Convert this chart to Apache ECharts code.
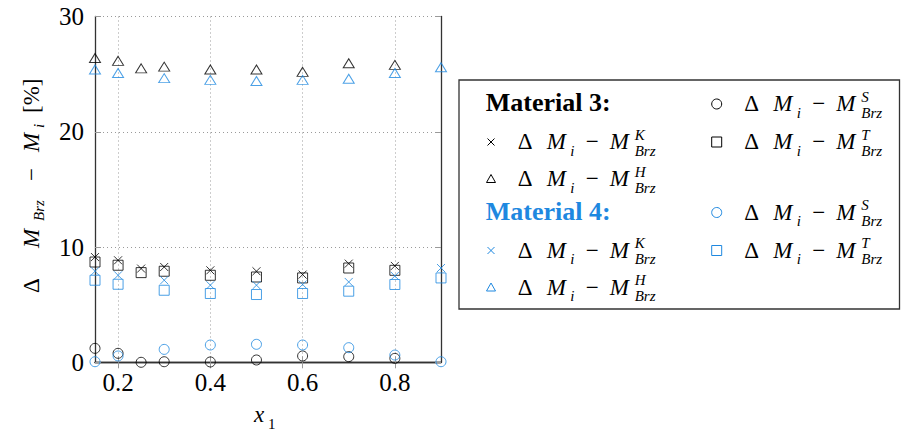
<!DOCTYPE html>
<html>
<head>
<meta charset="utf-8">
<script src="https://cdn.jsdelivr.net/npm/echarts@6/dist/echarts.min.js"></script>
<style>html,body{margin:0;padding:0;background:#fff}#c{width:902px;height:433px}</style>
</head>
<body>
<div id="c"></div>
<script>
// ---- data ----
const x3 = [0.15, 0.2, 0.25, 0.3, 0.4, 0.5, 0.6, 0.7, 0.8];
const m3K = [9.13, 8.85, 8.13, 8.27, 7.98, 7.9, 7.61, 8.56, 8.36];
const m3H = [26.4, 26.15, 25.5, 25.65, 25.4, 25.4, 25.2, 25.95, 25.8];
const m3S = [1.21, 0.78, 0.0, 0.05, 0.03, 0.2, 0.55, 0.49, 0.34];
const m3T = [8.7, 8.42, 7.78, 7.9, 7.55, 7.4, 7.32, 8.18, 7.98];

const x4 = [0.15, 0.2, 0.3, 0.4, 0.5, 0.6, 0.7, 0.8, 0.9];
const m4K = [7.9, 7.55, 7.12, 6.69, 6.69, 6.75, 6.97, 7.49, 8.18];
const m4H = [25.4, 25.1, 24.65, 24.5, 24.4, 24.5, 24.6, 25.1, 25.6];
const m4S = [0.05, 0.55, 1.12, 1.5, 1.56, 1.5, 1.27, 0.63, 0.05];
const m4T = [7.12, 6.77, 6.25, 5.97, 5.88, 5.97, 6.17, 6.75, 7.32];

const xTicks = [0.2, 0.4, 0.6, 0.8];

// ---- styling ----
const BLACK = '#000000';
const BLUE = '#1e88e0';
const crossPath = 'path://M0,0L10,10M10,0L0,10';

function pairs(xs, ys) { return xs.map((x, i) => [x, ys[i]]); }
function sc(name, xs, ys, color, symbol, size) {
  return {
    type: 'scatter', name: name, data: pairs(xs, ys),
    symbol: symbol, symbolSize: size,
    itemStyle: { color: 'rgba(0,0,0,0)', borderColor: color, borderWidth: 1 }
  };
}

// text pieces, same form as a plain graphic text
function txt(x, y, t, size, fstyle, color) {
  return { type: 'text', x: x, y: y,
    style: { text: t, font: (fstyle ? fstyle + ' ' : '') + size + 'px Liberation Serif', fill: color || '#000' } };
}
// y here is the top of the text box (default 'top' alignment)
const MS = 23, SS = 15;
function entry(x0, yc, sup) {
  const t = yc - 12;
  return [
    txt(x0, t, '\u0394', MS),
    txt(x0 + 29, t, 'M', MS, 'italic'),
    txt(x0 + 52.5, t + 13, 'i', SS, 'italic'),
    txt(x0 + 68, t, '\u2212', MS),
    txt(x0 + 92, t, 'M', MS, 'italic'),
    txt(x0 + 117, t - 3, sup, SS, 'italic'),
    txt(x0 + 117, t + 13, 'Brz', SS, 'italic')
  ];
}
function mk(type, cx, cy, color) {
  const st = { fill: 'none', stroke: color, lineWidth: 1 };
  if (type === 'circle') return [{ type: 'circle', shape: { cx, cy, r: 5 }, style: st }];
  if (type === 'rect') return [{ type: 'rect', shape: { x: cx - 5, y: cy - 5, width: 10, height: 10 }, style: st }];
  if (type === 'tri') return [{ type: 'polygon', shape: { points: [[cx, cy - 4.5], [cx + 4.5, cy + 3.5], [cx - 4.5, cy + 3.5]] }, style: st }];
  return [
    { type: 'line', shape: { x1: cx - 3.5, y1: cy - 3.5, x2: cx + 3.5, y2: cy + 3.5 }, style: st },
    { type: 'line', shape: { x1: cx + 3.5, y1: cy - 3.5, x2: cx - 3.5, y2: cy + 3.5 }, style: st }
  ];
}

const c1m = 491, c1t = 517.7, c2m = 716.7, c2t = 744.3;
const rows = [104, 142, 179, 212.5, 250.5, 287.5];
let legend = [
  { type: 'rect', shape: { x: 459, y: 80, width: 440.5, height: 229 },
    style: { fill: '#fff', stroke: '#333', lineWidth: 1.3 } },
  txt(485.7, 89, 'Material 3:', 26, 'bold', BLACK),
  txt(485.7, 198, 'Material 4:', 26, 'bold', BLUE)
];
legend = legend
  .concat(mk('circle', c2m, rows[0], BLACK), entry(c2t, rows[0], 'S'))
  .concat(mk('cross', c1m, rows[1], BLACK), entry(c1t, rows[1], 'K'))
  .concat(mk('rect', c2m, rows[1], BLACK), entry(c2t, rows[1], 'T'))
  .concat(mk('tri', c1m, rows[2], BLACK), entry(c1t, rows[2], 'H'))
  .concat(mk('circle', c2m, rows[3], BLUE), entry(c2t, rows[3], 'S'))
  .concat(mk('cross', c1m, rows[4], BLUE), entry(c1t, rows[4], 'K'))
  .concat(mk('rect', c2m, rows[4], BLUE), entry(c2t, rows[4], 'T'))
  .concat(mk('tri', c1m, rows[5], BLUE), entry(c1t, rows[5], 'H'));

// y axis title (rotated): Δ M_Brz − M_i [%]
const yTitle = {
  type: 'group', x: 19.5, y: 293, rotation: Math.PI / 2,
  children: [
    txt(0, 0, '\u0394', MS),
    txt(45, 0, 'M', MS, 'italic'),
    txt(72, 12, 'Brz', SS, 'italic'),
    txt(112, 0, '\u2212', MS),
    txt(141, 0, 'M', MS, 'italic'),
    txt(165, 12, 'i', SS, 'italic'),
    txt(180, 0, '[%]', MS)
  ]
};
const xTitle = [txt(254, 403, 'x', MS, 'italic'), txt(268, 416, '1', SS)];

const tickStyle = { show: true, inside: true, length: 6, lineStyle: { color: '#9a9a9a', width: 1 } };
const gridLine = { show: true, lineStyle: { type: [1, 3], color: '#9a9a9a', width: 1 } };
const frame = { show: true, lineStyle: { color: '#333', width: 1.3 } };

const option = {
  animation: false,
  grid: { left: 95, top: 16.5, width: 346, height: 345.8 },
  xAxis: [
    { type: 'value', min: 0.15, max: 0.9, axisLine: frame,
      axisTick: Object.assign({ customValues: xTicks }, tickStyle),
      axisLabel: { customValues: xTicks, margin: 8, fontFamily: 'Liberation Serif', fontSize: 25, color: '#000' },
      splitLine: gridLine },
    { type: 'value', position: 'top', min: 0.15, max: 0.9, axisLine: frame,
      axisTick: Object.assign({ customValues: xTicks }, tickStyle),
      axisLabel: { show: false }, splitLine: { show: false } }
  ],
  yAxis: [
    { type: 'value', min: 0, max: 30, interval: 10, axisLine: frame,
      axisTick: tickStyle,
      axisLabel: { margin: 11, fontFamily: 'Liberation Serif', fontSize: 25, color: '#000' },
      splitLine: gridLine },
    { type: 'value', position: 'right', min: 0, max: 30, interval: 10, axisLine: frame,
      axisTick: tickStyle, axisLabel: { show: false }, splitLine: { show: false } }
  ],
  series: [
    sc('Material 3: \u0394 Mi \u2212 M^S_Brz', x3, m3S, BLACK, 'circle', 10),
    sc('Material 3: \u0394 Mi \u2212 M^T_Brz', x3, m3T, BLACK, 'rect', 10),
    sc('Material 3: \u0394 Mi \u2212 M^K_Brz', x3, m3K, BLACK, crossPath, 8),
    sc('Material 3: \u0394 Mi \u2212 M^H_Brz', x3, m3H, BLACK, 'triangle', [11, 9]),
    sc('Material 4: \u0394 Mi \u2212 M^S_Brz', x4, m4S, BLUE, 'circle', 10),
    sc('Material 4: \u0394 Mi \u2212 M^T_Brz', x4, m4T, BLUE, 'rect', 10),
    sc('Material 4: \u0394 Mi \u2212 M^K_Brz', x4, m4K, BLUE, crossPath, 8),
    sc('Material 4: \u0394 Mi \u2212 M^H_Brz', x4, m4H, BLUE, 'triangle', [11, 9])
  ],
  graphic: { elements: legend.concat([yTitle], xTitle) }
};

const chart = echarts.init(document.getElementById('c'), null, { renderer: 'svg' });
chart.setOption(option);
</script>
</body>
</html>
